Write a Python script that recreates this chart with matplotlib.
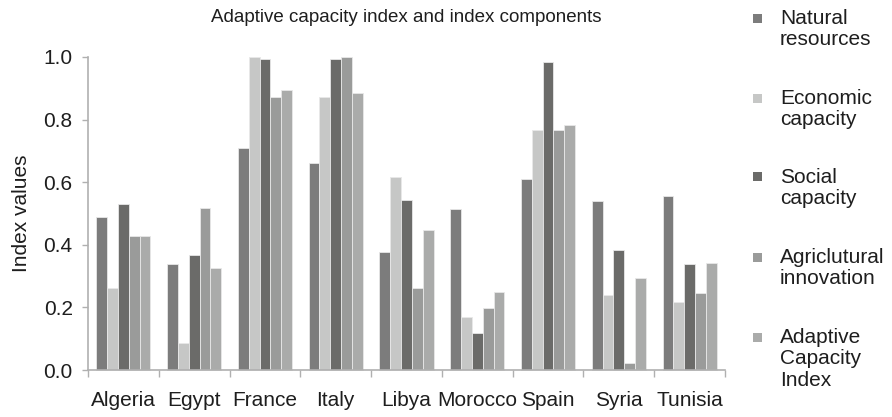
import matplotlib
matplotlib.use("Agg")
import matplotlib.pyplot as plt
from matplotlib.patches import Rectangle
import numpy as np

plt.rcParams['font.family'] = ['Liberation Sans', 'DejaVu Sans']

countries = ["Algeria", "Egypt", "France", "Italy", "Libya", "Morocco", "Spain", "Syria", "Tunisia"]
series_names = ["Natural\nresources", "Economic\ncapacity", "Social\ncapacity",
                "Agriclutural\ninnovation", "Adaptive\nCapacity\nIndex"]
natural_resources = [0.49, 0.338, 0.71, 0.66, 0.376, 0.513, 0.609, 0.541, 0.556]
economic_capacity = [0.261, 0.087, 1.0, 0.872, 0.618, 0.168, 0.768, 0.241, 0.217]
social_capacity = [0.53, 0.367, 0.995, 0.995, 0.544, 0.117, 0.983, 0.383, 0.338]
agricultural_innovation = [0.428, 0.517, 0.872, 1.0, 0.261, 0.198, 0.768, 0.022, 0.245]
adaptive_capacity_index = [0.428, 0.326, 0.895, 0.884, 0.448, 0.248, 0.783, 0.295, 0.341]
y_ticks = [0.0, 0.2, 0.4, 0.6, 0.8, 1.0]

series = [natural_resources, economic_capacity, social_capacity,
          agricultural_innovation, adaptive_capacity_index]
colors = ["#7c7c7c", "#c6c7c6", "#6b6b69", "#9a9b9a", "#aaabaa"]

W, H = 892, 417
FS = 15
TXT = "#1e1e1e"

fig = plt.figure(figsize=(W / 100, H / 100), dpi=100)
ax = fig.add_axes([88 / W, 1 - 370 / H, (725 - 88) / W, (370 - 57) / H])

x = np.arange(len(countries))
w = 0.153
for i, (vals, c) in enumerate(zip(series, colors)):
    ax.bar(x + (i - 2) * w, vals, width=w, color=c, edgecolor="#e8e8e8",
           linewidth=0.6, clip_on=False, zorder=2)

ax.set_xlim(-0.5, len(countries) - 0.5)
ax.set_ylim(0, 1.0)
ax.set_yticks(y_ticks)
ax.set_yticklabels([f"{t:.1f}" for t in y_ticks], fontsize=FS, color=TXT)
ax.set_xticks(x)
ax.set_xticklabels(countries, fontsize=FS, color=TXT)
ax.set_xticks(np.arange(len(countries) + 1) - 0.5, minor=True)
ax.tick_params(axis="x", which="major", length=0, pad=15)
ax.tick_params(axis="x", which="minor", length=5, color="#b0b0b0", width=1)
ax.tick_params(axis="y", length=4, color="#b0b0b0", width=1, pad=7)

for s in ["top", "right"]:
    ax.spines[s].set_visible(False)
for s in ["left", "bottom"]:
    ax.spines[s].set_color("#b0b0b0")
    ax.spines[s].set_linewidth(1.2)

ax.set_ylabel("Index values", fontsize=FS, color=TXT, labelpad=9)
fig.text(406 / W, 1 - 18 / H, "Adaptive capacity index and index components",
         ha="center", va="center", fontsize=13.5, color=TXT)

# legend drawn in figure pixel coordinates
legend_tops = [9, 89, 168, 248, 328]
for name, c, top in zip(series_names, colors, legend_tops):
    fig.patches.append(Rectangle((753 / W, 1 - (top + 13.5) / H), 9 / W, 9 / H,
                                 transform=fig.transFigure, facecolor=c,
                                 edgecolor="none"))
    fig.text(780 / W, 1 - top / H, name, ha="left", va="top", fontsize=FS,
             color=TXT, linespacing=1.15)

fig.savefig("out.png", dpi=100)
